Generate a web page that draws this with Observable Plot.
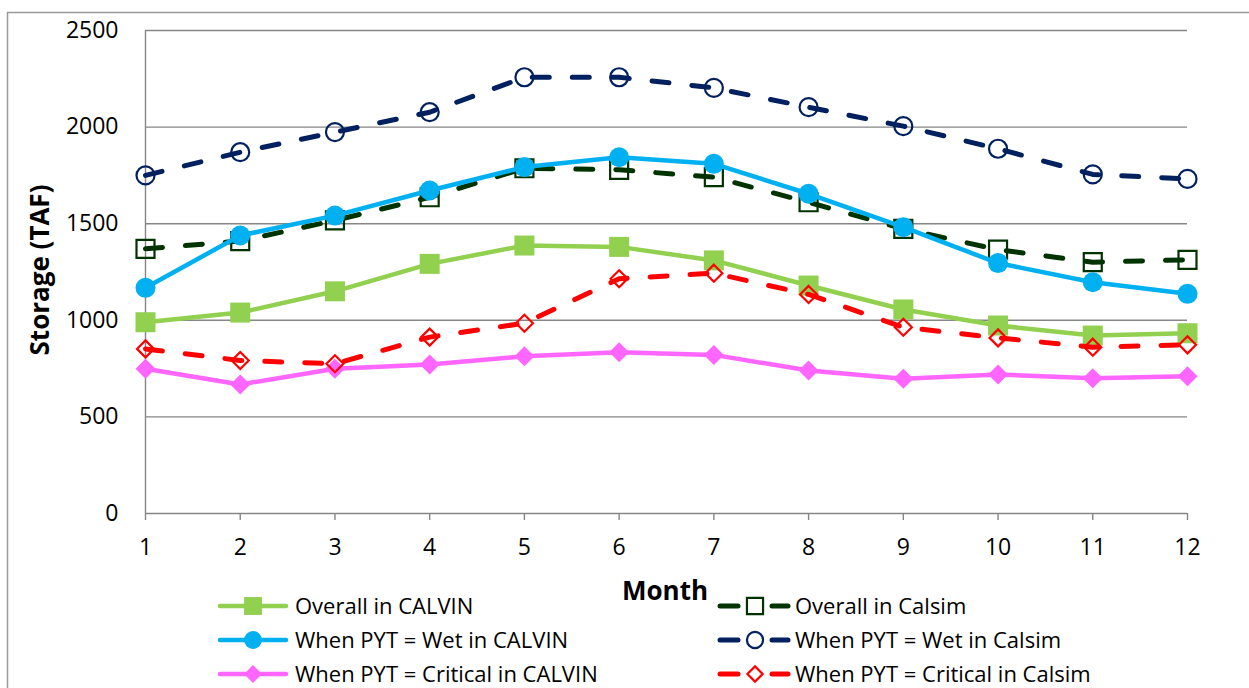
<!DOCTYPE html>
<html>
<head>
<meta charset="utf-8">
<script src="https://cdn.jsdelivr.net/npm/d3@7"></script>
<script src="https://cdn.jsdelivr.net/npm/@observablehq/plot@0.6"></script>
<style>
  html, body { margin: 0; padding: 0; background: #fff; overflow: hidden; }
</style>
</head>
<body>
<div id="chart"></div>
<script>
// ---------- data ----------
const months = [1, 2, 3, 4, 5, 6, 7, 8, 9, 10, 11, 12];
const yTicks = [0, 500, 1000, 1500, 2000, 2500];
const seriesNames = [
  "Overall in CALVIN",
  "Overall in Calsim",
  "When PYT = Wet in CALVIN",
  "When PYT = Wet in Calsim",
  "When PYT = Critical in CALVIN",
  "When PYT = Critical in Calsim"
];
const overallCalvin = [990, 1040, 1150, 1292, 1387, 1380, 1310, 1180, 1056, 973, 921, 933];
const overallCalsim = [1370, 1410, 1517, 1637, 1787, 1779, 1741, 1611, 1473, 1366, 1301, 1313];
const wetCalvin     = [1168, 1439, 1542, 1672, 1793, 1844, 1810, 1655, 1482, 1296, 1197, 1137];
const wetCalsim     = [1750, 1870, 1974, 2077, 2258, 2258, 2203, 2103, 2005, 1888, 1755, 1732];
const critCalvin    = [749, 668, 749, 771, 814, 835, 821, 740, 697, 719, 700, 711];
const critCalsim    = [852, 792, 775, 913, 985, 1215, 1244, 1134, 964, 909, 861, 873];
const seriesValues = [overallCalvin, overallCalsim, wetCalvin, wetCalsim, critCalvin, critCalsim];

// ---------- styles ----------
const FONT = "'Open Sans', 'Noto Sans', sans-serif";
const GRID = "#868686";
const SQRTPI = Math.sqrt(Math.PI);
const seriesStyle = [
  {color: "#92D050", dashed: false, symbol: "square",   filled: true,  r: 20 / SQRTPI},
  {color: "#003300", dashed: true,  symbol: "square",   filled: false, r: 18 / SQRTPI},
  {color: "#00B0F0", dashed: false, symbol: "circle",   filled: true,  r: 10},
  {color: "#002060", dashed: true,  symbol: "circle",   filled: false, r: 9},
  {color: "#FF66FF", dashed: false, symbol: "diamond2", filled: true,  r: 10 / (0.62625 * SQRTPI)},
  {color: "#FF0000", dashed: true,  symbol: "diamond2", filled: false, r: 8.5 / (0.62625 * SQRTPI)}
];

const tables = seriesValues.map((vals, s) =>
  months.map((m, i) => ({month: m, value: vals[i], series: seriesNames[s]}))
);

const seriesMarks = [];
tables.forEach((rows, s) => {
  const st = seriesStyle[s];
  seriesMarks.push(Plot.line(rows, {
    x: "month", y: "value", stroke: st.color, strokeWidth: st.dashed ? 5 : 4.5,
    strokeDasharray: st.dashed ? "17,23" : null, strokeLinecap: "round", strokeLinejoin: "round"
  }));
  seriesMarks.push(Plot.dot(rows, {
    x: "month", y: "value", symbol: st.symbol, r: st.r,
    fill: st.filled ? st.color : "none",
    stroke: st.filled ? "none" : st.color,
    strokeWidth: st.filled ? 0 : 2.2
  }));
});

const chart = Plot.plot({
  width: 1249,
  height: 688,
  marginLeft: 145,
  marginRight: 62,
  marginTop: 30,
  marginBottom: 175,
  x: {domain: [1, 12], axis: null},
  y: {domain: [0, 2500], axis: null},
  style: {fontFamily: FONT, background: "white", color: "black"},
  marks: [
    Plot.ruleY(yTicks.filter(d => d > 0), {stroke: GRID, strokeWidth: 1.4}),
    Plot.ruleX([1], {stroke: GRID, strokeWidth: 1.4}),
    Plot.ruleY([0], {stroke: GRID, strokeWidth: 1.4}),
    Plot.ruleX(months, {x: d => d, y1: () => 0, y2: () => 0, insetBottom: -7, stroke: GRID, strokeWidth: 1.4}),
    Plot.text(yTicks, {y: d => d, frameAnchor: "left", dx: -27, textAnchor: "end",
      text: d => String(d), fontSize: 23, fill: "black"}),
    Plot.text(months, {x: d => d, y: () => 0, dy: 34, text: d => String(d), fontSize: 23, fill: "black"}),
    ...seriesMarks
  ]
});

document.getElementById("chart").appendChild(chart);

// ---------- decorations: border, axis titles, legend ----------
const svg = d3.select(chart);
svg.insert("line", ":first-child").attr("x1", 7.5).attr("x2", 7.5).attr("y1", 12).attr("y2", 688)
  .attr("stroke", "#9a9a9a").attr("stroke-width", 1.5);
svg.insert("line", ":first-child").attr("x1", 7).attr("x2", 1249).attr("y1", 12.5).attr("y2", 12.5)
  .attr("stroke", "#9a9a9a").attr("stroke-width", 1.5);

svg.append("text")
  .attr("transform", "translate(49,270) rotate(-90)")
  .attr("text-anchor", "middle")
  .attr("font-family", FONT).attr("font-weight", "bold").attr("font-size", 26)
  .attr("fill", "black")
  .text("Storage (TAF)");

svg.append("text")
  .attr("x", 665).attr("y", 600)
  .attr("text-anchor", "middle")
  .attr("font-family", FONT).attr("font-weight", "bold").attr("font-size", 26)
  .attr("fill", "black")
  .text("Month");

const symbolMap = {square: d3.symbolSquare, circle: d3.symbolCircle, diamond2: d3.symbolDiamond2};
const legend = svg.append("g").attr("font-family", FONT).attr("text-anchor", "start");
seriesNames.forEach((name, s) => {
  const st = seriesStyle[s];
  const col = s % 2, row = Math.floor(s / 2);
  const x0 = col === 0 ? 218 : 718;
  const cy = 606 + row * 34;
  const mx = x0 + (col === 0 ? 35 : 37);
  const g = legend.append("g");
  if (st.dashed) {
    g.append("line").attr("x1", x0 + 2).attr("x2", x0 + 20).attr("y1", cy).attr("y2", cy)
      .attr("stroke", st.color).attr("stroke-width", 5).attr("stroke-linecap", "round");
    g.append("line").attr("x1", x0 + 54).attr("x2", x0 + 70).attr("y1", cy).attr("y2", cy)
      .attr("stroke", st.color).attr("stroke-width", 5).attr("stroke-linecap", "round");
  } else {
    g.append("line").attr("x1", x0 + 2).attr("x2", x0 + 68).attr("y1", cy).attr("y2", cy)
      .attr("stroke", st.color).attr("stroke-width", 4.5).attr("stroke-linecap", "round");
  }
  g.append("path")
    .attr("transform", `translate(${mx},${cy})`)
    .attr("d", d3.symbol(symbolMap[st.symbol], Math.PI * st.r * st.r * 0.8)())
    .attr("fill", st.filled ? st.color : "white")
    .attr("stroke", st.filled ? "none" : st.color)
    .attr("stroke-width", st.filled ? 0 : 2.2);
  g.append("text")
    .attr("x", col === 0 ? 295 : 795).attr("y", cy + 8)
    .attr("text-anchor", "start")
    .attr("font-size", 22).attr("fill", "black")
    .text(name);
});
</script>
</body>
</html>
